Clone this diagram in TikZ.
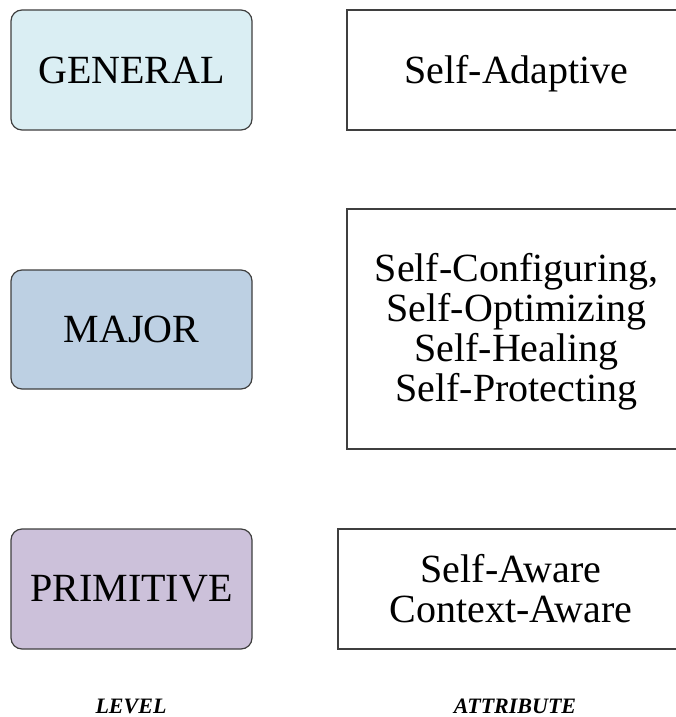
\documentclass[tikz,border=0pt]{standalone}
\usepackage{fontspec}
\setmainfont{Liberation Serif}
\definecolor{generalfill}{HTML}{DAEEF3}
\definecolor{majorfill}{HTML}{BDD0E3}
\definecolor{primfill}{HTML}{CCC1DA}
\definecolor{edge}{HTML}{3F3F3F}
\tikzset{
  levelbox/.style={draw=edge, line width=1.2pt, rounded corners=11pt,
    minimum width=241pt, minimum height=120pt, inner sep=0pt,
    font=\fontsize{40}{40}\selectfont},
  attrbox/.style={draw=edge, line width=1.2pt, inner sep=0pt,
    align=center, font=\fontsize{40}{40}\selectfont},
  caption/.style={font=\fontsize{22}{22}\selectfont\bfseries\itshape,
    inner sep=0pt, anchor=base}
}
\begin{document}
\begin{tikzpicture}[x=1pt, y=-1pt]
  \clip (0,0) rectangle (676,717);
  \fill[white] (0,0) rectangle (676,717);

  % level column
  \node[levelbox, fill=generalfill] (general) at (131.5,70) {GENERAL};
  \node[levelbox, fill=majorfill, minimum height=119pt] (major) at (131.5,329.5) {MAJOR};
  \node[levelbox, fill=primfill] (primitive) at (131.5,589) {PRIMITIVE};

  % attribute column (boxes run off the right edge)
  \node[attrbox, minimum width=339pt, minimum height=120pt] (adaptive) at (516.5,70) {};
  \node[font=\fontsize{40}{40}\selectfont, anchor=base] (adaptivetext)
    at ([yshift=-13pt]adaptive.center) {Self-Adaptive};
  \node[attrbox, minimum width=339pt, minimum height=240pt] (selfstar) at (516.5,329) {};
  \node[font=\fontsize{40}{40}\selectfont, align=center] (selfstartext)
    at ([yshift=-3pt]selfstar.center)
    {Self-Configuring,\\Self-Optimizing\\Self-Healing\\Self-Protecting};
  \node[attrbox, minimum width=346pt, minimum height=120pt] (aware) at (511,589)
    {Self-Aware\\Context-Aware};

  % column captions
  \node[caption] (levelcap) at (131,713) {LEVEL};
  \node[caption] (attrcap) at (515,713) {ATTRIBUTE};
\end{tikzpicture}
\end{document}
